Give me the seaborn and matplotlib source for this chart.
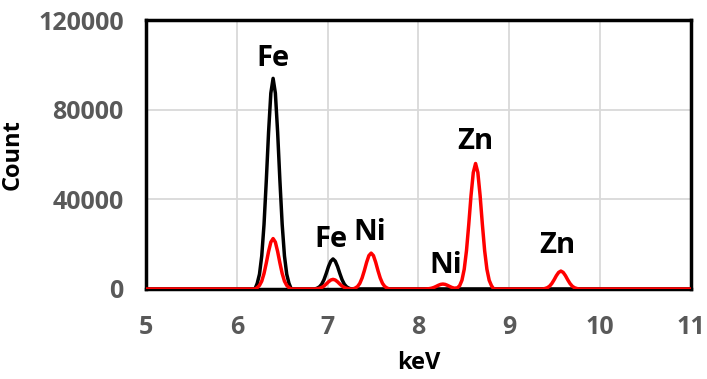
import pandas as pd
import matplotlib.pyplot as plt
import seaborn as sns

# Spectrum (keV vs counts)
black_kev = [5.0,
             6.2, 6.225, 6.25, 6.275, 6.3, 6.325, 6.35, 6.375, 6.4, 6.425, 6.45, 6.475, 6.5, 6.525, 6.55, 6.575, 6.6,
             6.86, 6.885, 6.91, 6.935, 6.96, 6.985, 7.01, 7.035, 7.06, 7.085, 7.11, 7.135, 7.16, 7.185, 7.21, 7.235, 7.26,
             11.0]
black_count = [0,
               0, 2500, 6600, 14800, 28800, 48300, 69900, 87400, 94000, 87400, 69900, 48300, 28800, 14800, 6600, 2500, 0,
               0, 360, 940, 2100, 4100, 6900, 10000, 12400, 13400, 12400, 10000, 6900, 4100, 2100, 940, 360, 0,
               0]

red_kev = [5.0,
           6.2, 6.225, 6.25, 6.275, 6.3, 6.325, 6.35, 6.375, 6.4, 6.425, 6.45, 6.475, 6.5, 6.525, 6.55, 6.575, 6.6,
           6.86, 6.885, 6.91, 6.935, 6.96, 6.985, 7.01, 7.035, 7.06, 7.085, 7.11, 7.135, 7.16, 7.185, 7.21, 7.235, 7.26,
           7.28, 7.305, 7.33, 7.355, 7.38, 7.405, 7.43, 7.455, 7.48, 7.505, 7.53, 7.555, 7.58, 7.605, 7.63, 7.655, 7.68,
           8.07, 8.095, 8.12, 8.145, 8.17, 8.195, 8.22, 8.245, 8.27, 8.295, 8.32, 8.345, 8.37, 8.395,
           8.43, 8.455, 8.48, 8.505, 8.53, 8.555, 8.58, 8.605, 8.63, 8.655, 8.68, 8.705, 8.73, 8.755, 8.78, 8.805, 8.83,
           9.37, 9.395, 9.42, 9.445, 9.47, 9.495, 9.52, 9.545, 9.57, 9.595, 9.62, 9.645, 9.67, 9.695, 9.72, 9.745, 9.77,
           11.0]
red_count = [0,
             0, 600, 1600, 3500, 6900, 11600, 16700, 20900, 22500, 20900, 16700, 11600, 6900, 3500, 1600, 600, 0,
             0, 120, 300, 680, 1300, 2200, 3200, 4000, 4300, 4000, 3200, 2200, 1300, 680, 300, 120, 0,
             0, 430, 1100, 2500, 4900, 8200, 11900, 14900, 16000, 14900, 11900, 8200, 4900, 2500, 1100, 430, 0,
             0, 60, 150, 350, 670, 1130, 1640, 2050, 2200, 2050, 1640, 1130, 670, 350,
             500, 1500, 3900, 8800, 17100, 28800, 41700, 52000, 56000, 52000, 41700, 28800, 17100, 8800, 3900, 1500, 0,
             0, 220, 560, 1250, 2450, 4100, 5950, 7400, 8000, 7400, 5950, 4100, 2450, 1250, 560, 220, 0,
             0]

# Peak labels
peak_names = ['Fe', 'Fe', 'Ni', 'Ni', 'Zn', 'Zn']
peak_kev = [6.40, 7.04, 7.47, 8.30, 8.63, 9.53]
peak_count = [103000, 21900, 25400, 10700, 65600, 19200]

x_ticks = [5, 6, 7, 8, 9, 10, 11]
y_ticks = [0, 40000, 80000, 120000]

black_df = pd.DataFrame({'keV': black_kev, 'Count': black_count})
red_df = pd.DataFrame({'keV': red_kev, 'Count': red_count})

sns.set_style('white')
plt.rcParams['font.family'] = ['Open Sans', 'DejaVu Sans']

fig = plt.figure(figsize=(7.07, 3.79), dpi=100)
ax = fig.add_axes([0.2065, 0.2375, 0.7705, 0.7095])

ax.grid(True, color='#d9d9d9', linewidth=1.3)
ax.set_axisbelow(True)

sns.lineplot(data=black_df, x='keV', y='Count', color='black', linewidth=2.5,
             estimator=None, sort=False, ax=ax, zorder=3)
sns.lineplot(data=red_df, x='keV', y='Count', color='#ff0000', linewidth=2.5,
             estimator=None, sort=False, ax=ax, zorder=4)

for name, xv, yv in zip(peak_names, peak_kev, peak_count):
    ax.text(xv, yv, name, ha='center', va='center', fontsize=21,
            fontweight='bold', color='black')

ax.set_xlim(5, 11)
ax.set_ylim(0, 120000)
ax.set_xticks(x_ticks)
ax.set_yticks(y_ticks)
ax.set_xticklabels([str(t) for t in x_ticks])
ax.set_yticklabels([str(t) for t in y_ticks])

for side in ['left', 'right', 'top', 'bottom']:
    ax.spines[side].set_visible(True)
    ax.spines[side].set_color('black')
    ax.spines[side].set_linewidth(2.5)

ax.tick_params(axis='both', direction='out', length=7, width=2.5, color='black',
               labelsize=18, labelcolor='#595959')
ax.tick_params(axis='x', pad=12)
ax.tick_params(axis='y', pad=9)
for lbl in ax.get_xticklabels() + ax.get_yticklabels():
    lbl.set_fontweight('bold')

ax.set_xlabel('keV', fontsize=17, fontweight='bold', color='black', labelpad=8)
ax.set_ylabel('Count', fontsize=17, fontweight='bold', color='black', labelpad=10)

fig.savefig('out.png', dpi=100)
